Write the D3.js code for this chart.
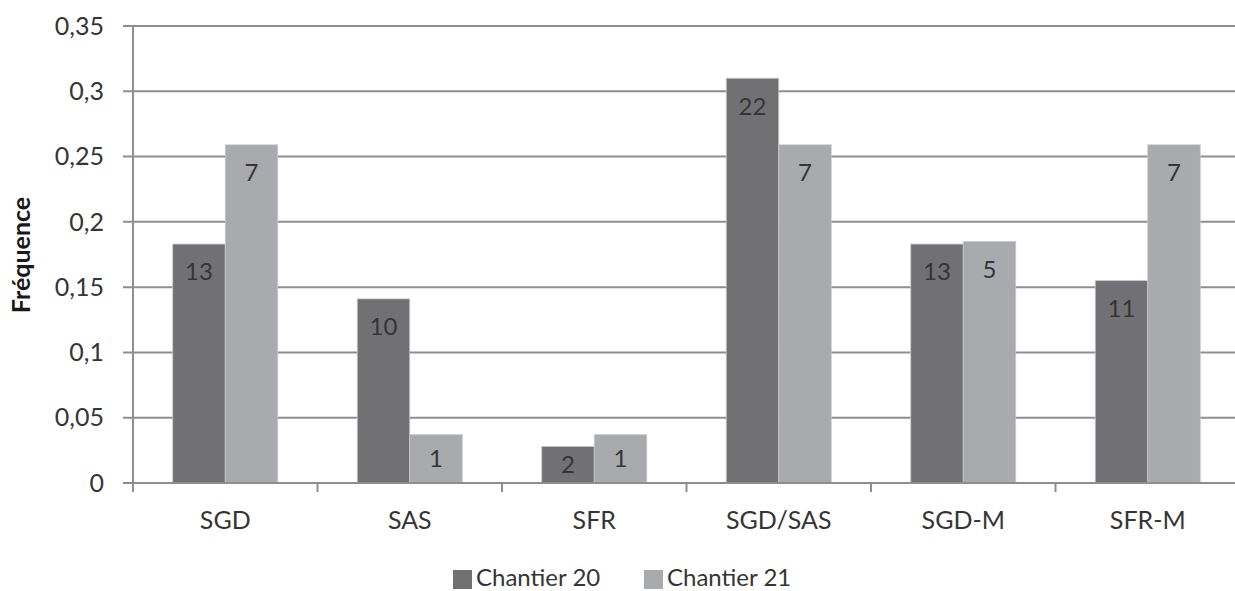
<!DOCTYPE html>
<html lang="fr">
  <head>
    <meta charset="UTF-8" />
    <title>Fréquence par chantier</title>
    <script src="https://d3js.org/d3.v7.min.js"></script>
    <style>
      body {
        margin: 0;
        background: #fff;
        overflow: hidden;
      }
      svg text {
        font-family: Lato, "Open Sans", sans-serif;
        fill: #353535;
      }
      .grid line {
        stroke: #8e8e8e;
        stroke-width: 2px;
      }
    </style>
  </head>
  <body>
    <svg width="1235" height="591"></svg>

    <script>
      // data
      const categories = ["SGD", "SAS", "SFR", "SGD/SAS", "SGD-M", "SFR-M"];
      const series = ["Chantier 20", "Chantier 21"];
      const chantier20 = [0.183, 0.141, 0.028, 0.31, 0.183, 0.155];
      const chantier21 = [0.259, 0.037, 0.037, 0.259, 0.185, 0.259];
      const counts20 = [13, 10, 2, 22, 13, 11];
      const counts21 = [7, 1, 1, 7, 5, 7];
      const yTicks = [0, 0.05, 0.1, 0.15, 0.2, 0.25, 0.3, 0.35];
      const colors = ["#717173", "#a8aaad"];

      const svg = d3.select("svg");

      // plot box (right side runs a little past the picture edge)
      const plotLeft = 133, plotRight = 1240, plotTop = 26, plotBottom = 483;

      const x0 = d3.scaleBand().domain(categories).range([plotLeft, plotRight]);
      const x1 = d3
        .scaleBand()
        .domain(series)
        .range([0, x0.bandwidth()])
        .paddingOuter(0.757);
      const y = d3.scaleLinear().domain([0, 0.35]).range([plotBottom, plotTop]);

      const fmt = d => String(d).replace(".", ",");

      // horizontal grid lines, which also stand in for the y ticks
      svg
        .append("g")
        .attr("class", "grid")
        .selectAll("line")
        .data(yTicks)
        .join("line")
        .attr("x1", plotLeft - 10)
        .attr("x2", plotRight)
        .attr("y1", d => y(d))
        .attr("y2", d => y(d));

      // y tick labels
      svg
        .append("g")
        .selectAll("text")
        .data(yTicks)
        .join("text")
        .attr("x", plotLeft - 29)
        .attr("y", d => y(d))
        .attr("dy", "0.35em")
        .attr("text-anchor", "end")
        .style("font-size", "25px")
        .text(fmt);

      // bars
      const rows = categories.map((c, i) => ({
        cat: c,
        vals: [
          { s: series[0], v: chantier20[i], n: counts20[i] },
          { s: series[1], v: chantier21[i], n: counts21[i] }
        ]
      }));

      const group = svg
        .append("g")
        .selectAll("g")
        .data(rows)
        .join("g")
        .attr("transform", d => `translate(${x0(d.cat)},0)`);

      group
        .selectAll("rect")
        .data(d => d.vals)
        .join("rect")
        .attr("x", d => x1(d.s))
        .attr("width", x1.bandwidth())
        .attr("y", d => y(d.v))
        .attr("height", d => y(0) - y(d.v))
        .attr("fill", (d, i) => colors[i])
        .attr("stroke", "#c9c9c9")
        .attr("stroke-width", 0.8);

      // count labels inside the bar end, centred when the bar is short
      group
        .selectAll("text")
        .data(d => d.vals)
        .join("text")
        .attr("x", d => x1(d.s) + x1.bandwidth() / 2)
        .attr("y", d => Math.min(y(d.v) + 28, (y(d.v) + y(0)) / 2))
        .attr("dy", "0.35em")
        .attr("text-anchor", "middle")
        .style("font-size", "24px")
        .text(d => d.n);

      // axes drawn on top
      const axisColor = "#8e8e8e";
      svg
        .append("line")
        .attr("x1", plotLeft)
        .attr("x2", plotLeft)
        .attr("y1", plotTop)
        .attr("y2", plotBottom)
        .attr("stroke", axisColor)
        .attr("stroke-width", 2);

      svg
        .append("line")
        .attr("x1", plotLeft - 10)
        .attr("x2", plotRight)
        .attr("y1", plotBottom)
        .attr("y2", plotBottom)
        .attr("stroke", axisColor)
        .attr("stroke-width", 2);

      const xAxis = d3
        .axisBottom(x0)
        .tickSize(0)
        .tickPadding(28);
      const gx = svg
        .append("g")
        .attr("transform", `translate(0,${plotBottom})`)
        .call(xAxis);
      gx.select(".domain").remove();
      gx.attr("font-family", null).attr("font-size", null);
      gx.selectAll("text")
        .style("font-size", "25px")
        .attr("fill", "#353535");

      // tick marks between the categories
      const edges = categories.map(c => x0(c)).concat([plotRight]);
      svg
        .append("g")
        .selectAll("line")
        .data(edges)
        .join("line")
        .attr("x1", d => d)
        .attr("x2", d => d)
        .attr("y1", plotBottom)
        .attr("y2", plotBottom + 9)
        .attr("stroke", axisColor)
        .attr("stroke-width", 2);

      // y axis title
      svg
        .append("text")
        .attr("transform", `translate(30,255) rotate(-90)`)
        .attr("text-anchor", "middle")
        .style("font-size", "25px")
        .style("font-weight", "bold")
        .style("fill", "#1a1a1a")
        .text("Fréquence");

      // legend
      const legendX = [453, 644];
      const legend = svg
        .append("g")
        .selectAll("g")
        .data(series)
        .join("g")
        .attr("transform", (d, i) => `translate(${legendX[i]},570)`);

      legend
        .append("rect")
        .attr("width", 19)
        .attr("height", 19)
        .attr("fill", (d, i) => colors[i]);

      legend
        .append("text")
        .attr("x", 23)
        .attr("y", 16)
        .style("font-size", "24px")
        .text(d => d);
    </script>
  </body>
</html>
